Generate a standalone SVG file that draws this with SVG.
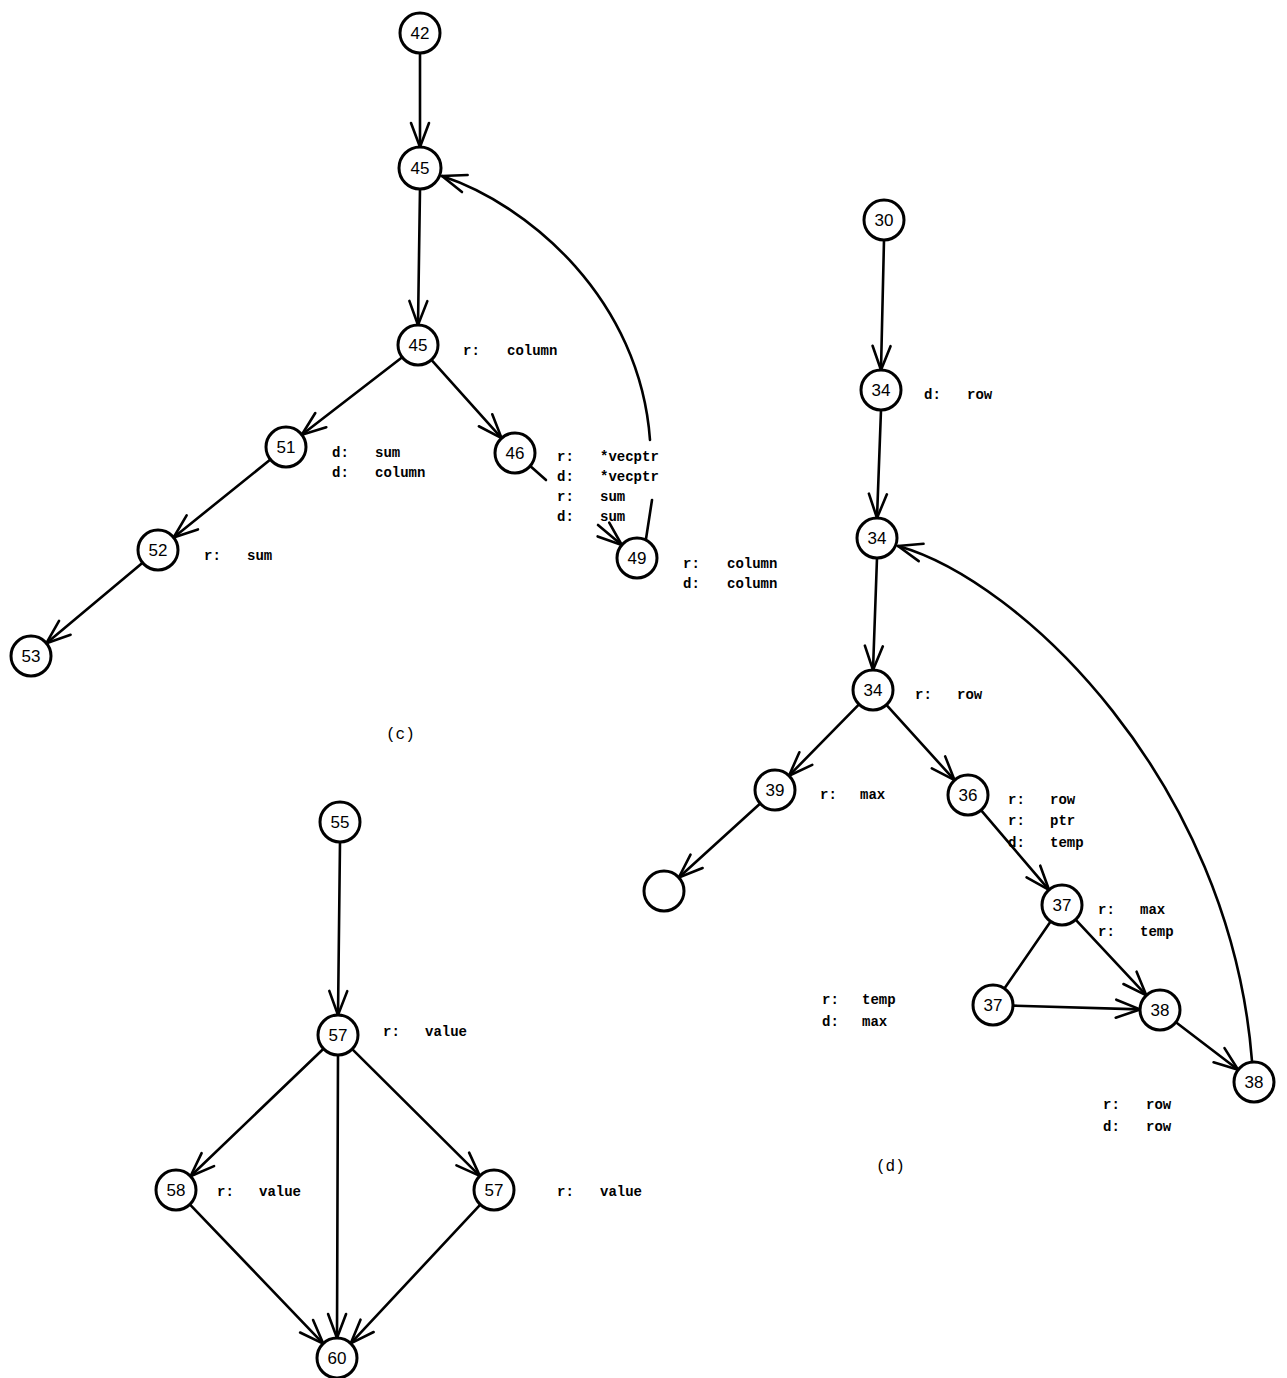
<svg xmlns="http://www.w3.org/2000/svg" width="1287" height="1378" viewBox="0 0 1287 1378">
<style>
.n circle{fill:#fff;stroke:#000;stroke-width:3}
.n text{font-family:"Liberation Sans",Arial,sans-serif;font-size:17px;text-anchor:middle;dominant-baseline:central;fill:#000}
.e line,.e path{stroke:#000;stroke-width:2.6;fill:none;stroke-linecap:round}
.a{marker-end:url(#ah)}
.lb{font-family:"Liberation Mono","Courier New",monospace;font-size:14px;font-weight:bold;fill:#000}
.cap{font-family:"Liberation Mono","Courier New",monospace;font-size:16px;fill:#000}
</style>
<defs>
<marker id="ah" viewBox="-28 -12 30 24" refX="0" refY="0" markerWidth="30" markerHeight="24" markerUnits="userSpaceOnUse" orient="auto">
<path d="M-24,-9 L0,0 L-24,9" fill="none" stroke="#000" stroke-width="2.6" stroke-linecap="round" stroke-linejoin="round"/>
</marker>
</defs>
<rect width="1287" height="1378" fill="#fff"/>
<g id="connectors" class="e">
<!-- (c) -->
<line class="a" x1="420" y1="53" x2="420" y2="147"/>
<line class="a" x1="420" y1="189" x2="418" y2="325"/>
<line class="a" x1="402.2" y1="357.2" x2="301.8" y2="434.8"/>
<line class="a" x1="431.4" y1="359.9" x2="501.6" y2="438.1"/>
<line class="a" x1="270.4" y1="459.5" x2="173.6" y2="537.5"/>
<line class="a" x1="142.6" y1="562.8" x2="46.4" y2="643.2"/>
<line x1="530.2" y1="466" x2="546" y2="480"/>
<line class="a" x1="598" y1="525" x2="621.8" y2="545"/>
<line x1="646" y1="539" x2="652" y2="500"/>
<path class="a" d="M650,440 C640,300 530,205 442,176"/>
<!-- (d) -->
<line class="a" x1="884" y1="240" x2="881" y2="370"/>
<line class="a" x1="881" y1="410" x2="877" y2="518"/>
<line class="a" x1="877" y1="558" x2="873" y2="670"/>
<line class="a" x1="859" y1="704.3" x2="789" y2="775.7"/>
<line class="a" x1="886.4" y1="704.8" x2="954.6" y2="780.2"/>
<line class="a" x1="760.2" y1="803.5" x2="678.8" y2="877.5"/>
<line class="a" x1="981" y1="810.2" x2="1049" y2="889.8"/>
<line x1="1050.6" y1="921.5" x2="1004.4" y2="988.5"/>
<line class="a" x1="1075.6" y1="919.6" x2="1146.4" y2="995.4"/>
<line class="a" x1="1013" y1="1005.6" x2="1140" y2="1009.4"/>
<line class="a" x1="1175.9" y1="1022.2" x2="1238.1" y2="1069.8"/>
<path class="a" d="M1252,1061 C1230,780 1020,580 898,546"/>
<!-- (e) -->
<line class="a" x1="340" y1="842" x2="338" y2="1015"/>
<line class="a" x1="323.5" y1="1048.8" x2="190.5" y2="1176.2"/>
<line class="a" x1="352.2" y1="1049.1" x2="479.8" y2="1175.9"/>
<line class="a" x1="338" y1="1055" x2="337" y2="1338"/>
<line class="a" x1="189.8" y1="1204.4" x2="323.2" y2="1343.6"/>
<line class="a" x1="480.3" y1="1204.6" x2="350.7" y2="1343.4"/>
</g>
<!-- nodes (c) -->
<g id="n42" class="n"><circle cx="420" cy="33" r="20"/><text x="420" y="33">42</text></g>
<g id="n45a" class="n"><circle cx="420" cy="168" r="21"/><text x="420" y="168">45</text></g>
<g id="n45b" class="n"><circle cx="418" cy="345" r="20"/><text x="418" y="345">45</text></g>
<g id="n51" class="n"><circle cx="286" cy="447" r="20"/><text x="286" y="447">51</text></g>
<g id="n46" class="n"><circle cx="515" cy="453" r="20"/><text x="515" y="453">46</text></g>
<g id="n49" class="n"><circle cx="637" cy="558" r="20"/><text x="637" y="558">49</text></g>
<g id="n52" class="n"><circle cx="158" cy="550" r="20"/><text x="158" y="550">52</text></g>
<g id="n53" class="n"><circle cx="31" cy="656" r="20"/><text x="31" y="656">53</text></g>
<!-- nodes (d) -->
<g id="n30" class="n"><circle cx="884" cy="220" r="20"/><text x="884" y="220">30</text></g>
<g id="n34a" class="n"><circle cx="881" cy="390" r="20"/><text x="881" y="390">34</text></g>
<g id="n34b" class="n"><circle cx="877" cy="538" r="20"/><text x="877" y="538">34</text></g>
<g id="n34c" class="n"><circle cx="873" cy="690" r="20"/><text x="873" y="690">34</text></g>
<g id="n39" class="n"><circle cx="775" cy="790" r="20"/><text x="775" y="790">39</text></g>
<g id="n36" class="n"><circle cx="968" cy="795" r="20"/><text x="968" y="795">36</text></g>
<g id="n37a" class="n"><circle cx="1062" cy="905" r="20"/><text x="1062" y="905">37</text></g>
<g id="n37b" class="n"><circle cx="993" cy="1005" r="20"/><text x="993" y="1005">37</text></g>
<g id="n38a" class="n"><circle cx="1160" cy="1010" r="20"/><text x="1160" y="1010">38</text></g>
<g id="n38b" class="n"><circle cx="1254" cy="1082" r="20"/><text x="1254" y="1082">38</text></g>
<g id="nempty" class="n"><circle cx="664" cy="891" r="20"/></g>
<!-- nodes (e) -->
<g id="n55" class="n"><circle cx="340" cy="822" r="20"/><text x="340" y="822">55</text></g>
<g id="n57a" class="n"><circle cx="338" cy="1035" r="20"/><text x="338" y="1035">57</text></g>
<g id="n58" class="n"><circle cx="176" cy="1190" r="20"/><text x="176" y="1190">58</text></g>
<g id="n57b" class="n"><circle cx="494" cy="1190" r="20"/><text x="494" y="1190">57</text></g>
<g id="n60" class="n"><circle cx="337" cy="1358" r="20"/><text x="337" y="1358">60</text></g>
<!-- labels -->
<g id="labels">
<text class="lb" y="355"><tspan x="463">r:</tspan><tspan x="507">column</tspan></text>
<text class="lb" y="457"><tspan x="332">d:</tspan><tspan x="375">sum</tspan></text>
<text class="lb" y="477"><tspan x="332">d:</tspan><tspan x="375">column</tspan></text>
<text class="lb" y="461"><tspan x="557">r:</tspan><tspan x="600">*vecptr</tspan></text>
<text class="lb" y="481"><tspan x="557">d:</tspan><tspan x="600">*vecptr</tspan></text>
<text class="lb" y="501"><tspan x="557">r:</tspan><tspan x="600">sum</tspan></text>
<text class="lb" y="521"><tspan x="557">d:</tspan><tspan x="600">sum</tspan></text>
<text class="lb" y="568"><tspan x="683">r:</tspan><tspan x="727">column</tspan></text>
<text class="lb" y="588"><tspan x="683">d:</tspan><tspan x="727">column</tspan></text>
<text class="lb" y="560"><tspan x="204">r:</tspan><tspan x="247">sum</tspan></text>
<text class="cap" x="386" y="739">(c)</text>
<text class="lb" y="399"><tspan x="924">d:</tspan><tspan x="967">row</tspan></text>
<text class="lb" y="699"><tspan x="915">r:</tspan><tspan x="957">row</tspan></text>
<text class="lb" y="799"><tspan x="820">r:</tspan><tspan x="860">max</tspan></text>
<text class="lb" y="804"><tspan x="1008">r:</tspan><tspan x="1050">row</tspan></text>
<text class="lb" y="825"><tspan x="1008">r:</tspan><tspan x="1050">ptr</tspan></text>
<text class="lb" y="847"><tspan x="1008">d:</tspan><tspan x="1050">temp</tspan></text>
<text class="lb" y="914"><tspan x="1098">r:</tspan><tspan x="1140">max</tspan></text>
<text class="lb" y="936"><tspan x="1098">r:</tspan><tspan x="1140">temp</tspan></text>
<text class="lb" y="1004"><tspan x="822">r:</tspan><tspan x="862">temp</tspan></text>
<text class="lb" y="1026"><tspan x="822">d:</tspan><tspan x="862">max</tspan></text>
<text class="lb" y="1109"><tspan x="1103">r:</tspan><tspan x="1146">row</tspan></text>
<text class="lb" y="1131"><tspan x="1103">d:</tspan><tspan x="1146">row</tspan></text>
<text class="cap" x="876" y="1171">(d)</text>
<text class="lb" y="1036"><tspan x="383">r:</tspan><tspan x="425">value</tspan></text>
<text class="lb" y="1196"><tspan x="217">r:</tspan><tspan x="259">value</tspan></text>
<text class="lb" y="1196"><tspan x="557">r:</tspan><tspan x="600">value</tspan></text>
</g>
</svg>
